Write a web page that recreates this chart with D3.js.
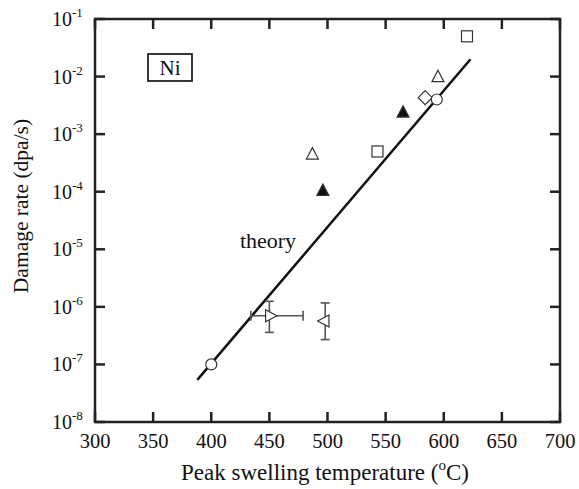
<!DOCTYPE html>
<html><head><meta charset="utf-8">
<script src="https://cdn.jsdelivr.net/npm/d3@7"></script>
<style>body{margin:0;background:#fff}svg{display:block}</style>
</head><body>
<svg id="c" width="579" height="489" font-family="'Liberation Serif', 'DejaVu Serif', serif"></svg>
<script>
const xTicks = [300,350,400,450,500,550,600,650,700];
const yExps = [-1,-2,-3,-4,-5,-6,-7,-8];
const theory = [[388,5.4e-8],[623,2e-2]];
const openSquares = [[543,5e-4],[620,5e-2]];
const openTriangles = [[487,4.3e-4],[595,9.5e-3]];
const filledTriangles = [[496,1e-4],[565,2.3e-3]];
const diamonds = [[584,4.3e-3]];
const circles = [[400,1e-7],[594,4e-3]];
const rightTri = [{x:450,y:7e-7,xlo:434,xhi:479,ylo:3.6e-7,yhi:1.25e-6}];
const leftTri = [{x:498,y:5.7e-7,ylo:2.7e-7,yhi:1.17e-6}];

const svg = d3.select("#c");
const L=95,R=560,T=19,B=422;
const x = d3.scaleLinear().domain([300,700]).range([L,R]);
const y = d3.scaleLog().domain([1e-8,1e-1]).range([B,T]);
const tl = 10;
const txt = "#111";

const g = svg.append("g").attr("stroke","#222").attr("stroke-width",2.5);
xTicks.forEach(t=>{
  g.append("line").attr("x1",x(t)).attr("x2",x(t)).attr("y1",B).attr("y2",B-tl);
  g.append("line").attr("x1",x(t)).attr("x2",x(t)).attr("y1",T).attr("y2",T+tl);
});
yExps.forEach(e=>{
  const v=Math.pow(10,e);
  g.append("line").attr("x1",L).attr("x2",L+tl).attr("y1",y(v)).attr("y2",y(v));
  g.append("line").attr("x1",R).attr("x2",R-tl).attr("y1",y(v)).attr("y2",y(v));
});
svg.append("rect").attr("x",L).attr("y",T).attr("width",R-L).attr("height",B-T)
  .attr("fill","none").attr("stroke","#222").attr("stroke-width",2.5);

xTicks.forEach(t=>{
  svg.append("text").attr("x",x(t)).attr("y",B+26).attr("text-anchor","middle")
    .attr("font-size",20.5).attr("fill",txt).text(t);
});
yExps.forEach(e=>{
  const v=Math.pow(10,e);
  const t=svg.append("text").attr("x",52).attr("y",y(v)+7).attr("font-size",20).attr("fill",txt);
  t.append("tspan").text("10");
  t.append("tspan").attr("font-size",13).attr("dy",-9).text(e);
});

const xt=svg.append("text").attr("x",325).attr("y",480).attr("text-anchor","middle").attr("font-size",23).attr("fill",txt);
xt.append("tspan").text("Peak swelling temperature (");
xt.append("tspan").attr("font-size",15).attr("dy",-10).text("o");
xt.append("tspan").attr("dy",10).text("C)");
svg.append("text").attr("transform","translate(28,206) rotate(-90)")
  .attr("text-anchor","middle").attr("font-size",21.5).attr("fill",txt).text("Damage rate (dpa/s)");

svg.append("rect").attr("x",148).attr("y",54).attr("width",44).attr("height",27)
  .attr("fill","none").attr("stroke","#222").attr("stroke-width",1.8);
svg.append("text").attr("x",170).attr("y",75).attr("text-anchor","middle").attr("font-size",21).attr("fill",txt).text("Ni");
svg.append("text").attr("x",268).attr("y",248).attr("text-anchor","middle").attr("font-size",22).attr("fill",txt).text("theory");

svg.append("path").datum(theory)
  .attr("d",d3.line().x(d=>x(d[0])).y(d=>y(d[1])))
  .attr("stroke","#111").attr("stroke-width",2.5).attr("fill","none");

const ms="#333", sw=1.2;
const eb = svg.append("g").attr("stroke","#555").attr("stroke-width",1.6);
rightTri.forEach(d=>{
  eb.append("line").attr("x1",x(d.xlo)).attr("x2",x(d.xhi)).attr("y1",y(d.y)).attr("y2",y(d.y));
  [d.xlo,d.xhi].forEach(v=>eb.append("line").attr("x1",x(v)).attr("x2",x(v)).attr("y1",y(d.y)-5).attr("y2",y(d.y)+5));
  eb.append("line").attr("x1",x(d.x)).attr("x2",x(d.x)).attr("y1",y(d.ylo)).attr("y2",y(d.yhi));
  [d.ylo,d.yhi].forEach(v=>eb.append("line").attr("x1",x(d.x)-4.5).attr("x2",x(d.x)+4.5).attr("y1",y(v)).attr("y2",y(v)));
});
leftTri.forEach(d=>{
  eb.append("line").attr("x1",x(d.x)).attr("x2",x(d.x)).attr("y1",y(d.ylo)).attr("y2",y(d.yhi));
  [d.ylo,d.yhi].forEach(v=>eb.append("line").attr("x1",x(d.x)-4.5).attr("x2",x(d.x)+4.5).attr("y1",y(v)).attr("y2",y(v)));
});

const tri=(cx,cy,dir,s)=>{
  const h=s*0.95, w=s;
  if(dir==="up") return `M${cx},${cy-2*h/3}L${cx+w/2},${cy+h/3}L${cx-w/2},${cy+h/3}Z`;
  if(dir==="right") return `M${cx+2*h/3},${cy}L${cx-h/3},${cy-w/2}L${cx-h/3},${cy+w/2}Z`;
  return `M${cx-2*h/3},${cy}L${cx+h/3},${cy-w/2}L${cx+h/3},${cy+w/2}Z`;
};
const m = svg.append("g").attr("stroke",ms).attr("stroke-width",sw);
openSquares.forEach(d=>m.append("rect").attr("x",x(d[0])-5.5).attr("y",y(d[1])-5.5).attr("width",11).attr("height",11).attr("fill","#fff"));
openTriangles.forEach(d=>m.append("path").attr("d",tri(x(d[0]),y(d[1]),"up",12)).attr("fill","#fff"));
filledTriangles.forEach(d=>m.append("path").attr("d",tri(x(d[0]),y(d[1]),"up",12)).attr("fill","#111"));
diamonds.forEach(d=>m.append("path").attr("d",`M${x(d[0])},${y(d[1])-7}L${x(d[0])+7},${y(d[1])}L${x(d[0])},${y(d[1])+7}L${x(d[0])-7},${y(d[1])}Z`).attr("fill","#fff"));
circles.forEach(d=>m.append("circle").attr("cx",x(d[0])).attr("cy",y(d[1])).attr("r",5.5).attr("fill","#fff"));
rightTri.forEach(d=>m.append("path").attr("d",tri(x(d.x),y(d.y),"right",12)).attr("fill","#fff"));
leftTri.forEach(d=>m.append("path").attr("d",tri(x(d.x),y(d.y),"left",12)).attr("fill","#fff"));
</script>
</body></html>
